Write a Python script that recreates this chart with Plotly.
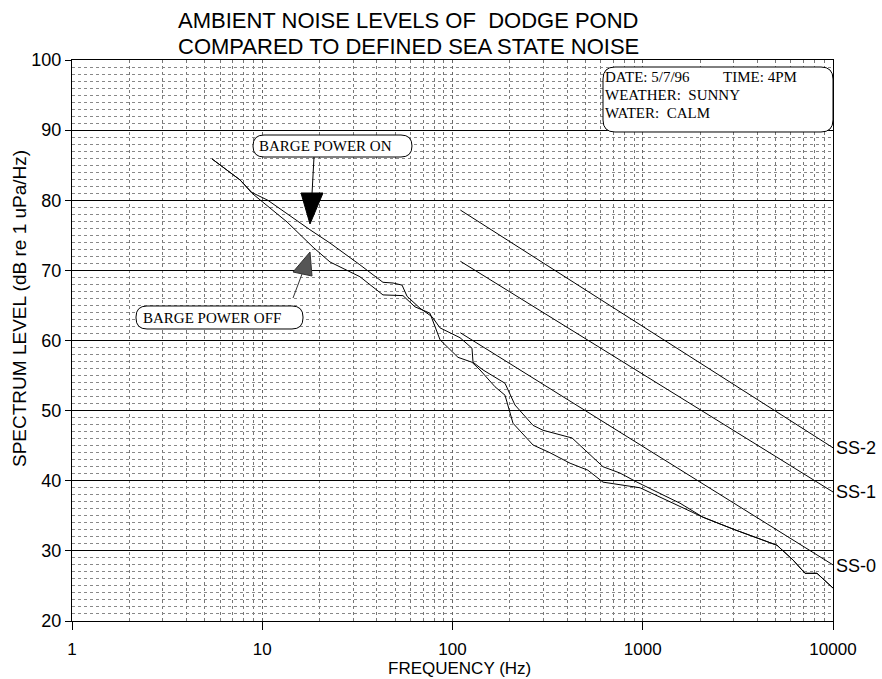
import plotly.graph_objects as go

# ---------------- data ----------------
freq_on = [5.44, 7.64, 8.83, 10.7, 17.8, 22.7, 32.6, 43.1, 48.7, 54.3, 57.7, 67.5,
           78.0, 86.0, 109.5, 126.6, 128.2, 144.7, 188.8, 213, 265, 299, 425, 509,
           618, 759, 933, 1341, 1570, 2074, 3054, 5078, 6164, 7127, 8238, 10000]
db_on = [85.9, 82.9, 81.1, 80.0, 75.8, 73.9, 70.8, 68.3, 68.2, 67.9, 66.3, 64.6,
         63.4, 61.8, 60.4, 58.9, 56.9, 55.8, 53.9, 50.8, 47.9, 47.2, 46.1, 44.1,
         42.0, 41.1, 39.8, 37.7, 36.8, 34.8, 33.0, 30.8, 28.7, 26.8, 26.8, 24.7]

freq_off = [5.44, 7.64, 8.83, 13.5, 18.5, 22.7, 32.6, 43.1, 54.9, 63.5, 76.1, 86.0,
            106.9, 126.6, 139.5, 167.3, 188.8, 208, 265, 325, 415, 515, 618, 967,
            2074, 3054, 5078, 6164, 7127, 8238, 10000]
db_off = [85.9, 82.9, 81.0, 76.9, 73.3, 71.2, 69.1, 66.5, 66.4, 64.8, 63.9, 60.1,
          57.6, 56.9, 55.8, 53.4, 52.2, 48.2, 45.1, 44.0, 42.5, 41.5, 39.8, 39.0,
          34.8, 33.0, 30.8, 28.7, 26.8, 26.8, 24.7]

ss_freq = [110, 10000]
ss0_db = [61.1, 28.0]
ss1_db = [71.3, 38.4]
ss2_db = [78.6, 44.7]
ss_names = ["SS-0", "SS-1", "SS-2"]
ss_label_db = [27.8, 38.4, 44.6]

x_tick_vals = [1, 10, 100, 1000, 10000]
x_tick_text = ["1", "10", "100", "1000", "10000"]
x_minor_vals = [m * d for d in (1, 10, 100, 1000) for m in range(2, 10)]

title_lines = ["AMBIENT NOISE LEVELS OF\u00a0 DODGE POND",
               "COMPARED TO DEFINED SEA STATE NOISE"]
info_lines = ["DATE: 5/7/96" + "\u00a0" * 8 + " TIME: 4PM",
              "WEATHER:\u00a0 SUNNY", "WATER:\u00a0 CALM"]
x_title = "FREQUENCY (Hz)"
y_title = "SPECTRUM LEVEL (dB re 1 uPa/Hz)"

# ---------------- layout helpers (pixel -> paper) ----------------
L, R, T, B = 72, 833, 60, 621
W, H = R - L, B - T


def px(x):
    return (x - L) / W


def py(y):
    return (B - y) / H


def rrect(x0, y0, x1, y1, r):
    def p(x, y):
        return f"{px(x):.5f},{py(y):.5f}"
    return (f"M {p(x0 + r, y0)} L {p(x1 - r, y0)} Q {p(x1, y0)} {p(x1, y0 + r)} "
            f"L {p(x1, y1 - r)} Q {p(x1, y1)} {p(x1 - r, y1)} L {p(x0 + r, y1)} "
            f"Q {p(x0, y1)} {p(x0, y1 - r)} L {p(x0, y0 + r)} Q {p(x0, y0)} {p(x0 + r, y0)} Z")


def poly(points):
    return "M " + " L ".join(f"{px(x):.5f},{py(y):.5f}" for x, y in points) + " Z"


SANS = "Liberation Sans, Arial, sans-serif"
SERIF = "Liberation Serif, Times New Roman, serif"

fig = go.Figure()
line_style = dict(color="black", width=1)
fig.add_trace(go.Scatter(x=freq_on, y=db_on, mode="lines", line=line_style, name="Barge power on"))
fig.add_trace(go.Scatter(x=freq_off, y=db_off, mode="lines", line=line_style, name="Barge power off"))
for name, vals in zip(ss_names, [ss0_db, ss1_db, ss2_db]):
    fig.add_trace(go.Scatter(x=ss_freq, y=vals, mode="lines", line=line_style, name=name))

fig.update_layout(
    width=882, height=679,
    margin=dict(l=L, r=882 - R, t=T, b=679 - B, autoexpand=False),
    paper_bgcolor="white", plot_bgcolor="white",
    showlegend=False,
    font=dict(family=SANS, color="black"),
)
fig.update_xaxes(
    type="log", range=[0, 4], automargin=False,
    tickvals=x_tick_vals, ticktext=x_tick_text,
    ticks="outside", ticklen=8, tickcolor="black", tickwidth=1,
    tickfont=dict(size=17, family=SANS), ticklabelstandoff=5,
    showline=True, linecolor="black", linewidth=1, mirror=True,
    showgrid=True, gridcolor="#666", griddash="dot", gridwidth=1,
    minor=dict(tickvals=x_minor_vals, showgrid=True, gridcolor="#777",
               griddash="dot", gridwidth=1, ticks=""),
    zeroline=False,
)
fig.update_yaxes(
    range=[20, 100], dtick=10, automargin=False,
    ticks="outside", ticklen=6, tickcolor="black", tickwidth=1,
    tickfont=dict(size=18, family=SANS),
    showline=True, linecolor="black", linewidth=1, mirror=True,
    showgrid=True, gridcolor="black", gridwidth=1,
    minor=dict(dtick=1, showgrid=True, gridcolor="#888", griddash="dot",
               gridwidth=1, ticks=""),
    zeroline=False,
)

shapes = [
    dict(type="path", path=rrect(603, 67, 833, 132, 12), xref="paper", yref="paper",
         fillcolor="white", line=dict(color="black", width=1), layer="above"),
    dict(type="path", path=rrect(253, 135, 412, 157, 11), xref="paper", yref="paper",
         fillcolor="white", line=dict(color="black", width=1), layer="above"),
    dict(type="path", path=rrect(136, 306, 303, 329, 11), xref="paper", yref="paper",
         fillcolor="white", line=dict(color="black", width=1), layer="above"),
    # arrow to "power on"
    dict(type="line", x0=px(314), y0=py(157), x1=px(312), y1=py(194), xref="paper", yref="paper",
         line=dict(color="black", width=1), layer="above"),
    dict(type="path", path=poly([(301, 193), (323, 193), (310, 224)]), xref="paper", yref="paper",
         fillcolor="black", line=dict(color="black", width=1), layer="above"),
    # arrow to "power off"
    dict(type="line", x0=px(293), y0=py(298), x1=px(302), y1=py(274), xref="paper", yref="paper",
         line=dict(color="#333", width=1), layer="above"),
    dict(type="path", path=poly([(310, 252), (293, 272), (312, 276)]), xref="paper", yref="paper",
         fillcolor="#555", line=dict(color="#333", width=1), layer="above"),
]
fig.update_layout(shapes=shapes)

ann = []
for i, t in enumerate(title_lines):
    ann.append(dict(text=t, x=px(408), y=py(21 + 25 * i), xref="paper", yref="paper",
                    showarrow=False, xanchor="center", yanchor="middle",
                    font=dict(size=22, family=SANS)))
for i, t in enumerate(info_lines):
    ann.append(dict(text=t, x=px(603), y=py(77 + 18 * i), xref="paper", yref="paper",
                    showarrow=False, xanchor="left", yanchor="middle",
                    font=dict(size=15, family=SERIF)))
ann.append(dict(text="BARGE POWER ON", x=px(325), y=py(146), xref="paper", yref="paper",
                showarrow=False, xanchor="center", yanchor="middle", font=dict(size=15, family=SERIF)))
ann.append(dict(text="BARGE POWER OFF", x=px(212), y=py(318), xref="paper", yref="paper",
                showarrow=False, xanchor="center", yanchor="middle", font=dict(size=15, family=SERIF)))
for name, yv in zip(ss_names, ss_label_db):
    ann.append(dict(text=name, x=4, y=yv, xref="x", yref="y", showarrow=False,
                    xanchor="left", yanchor="middle", xshift=1, font=dict(size=18, family=SANS)))
ann.append(dict(text=x_title, x=px(459), y=py(669), xref="paper", yref="paper", showarrow=False,
                xanchor="center", yanchor="middle", font=dict(size=17, family=SANS)))
ann.append(dict(text=y_title, x=px(19), y=py(309), xref="paper", yref="paper", showarrow=False,
                textangle=-90, xanchor="center", yanchor="middle", font=dict(size=19, family=SANS)))
fig.update_layout(annotations=ann)

fig.write_html("out.html")
